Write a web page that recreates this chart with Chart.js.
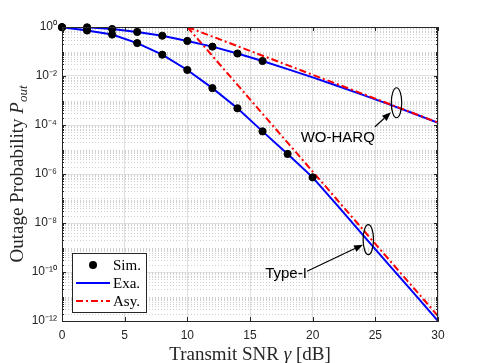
<!DOCTYPE html>
<html lang="en">
<head>
<meta charset="UTF-8">
<title>Outage probability vs transmit SNR</title>
<script src="https://cdn.jsdelivr.net/npm/chart.js"></script>
<style>
  html, body { margin: 0; padding: 0; background: #fff; }
  #wrap { width: 485px; height: 363px; }
</style>
</head>
<body>
<div id="wrap"><canvas id="chart" width="485" height="363"></canvas></div>
<script>
// ---- data ----
const snrSimWo = [0, 2, 4, 6, 8, 10, 12, 14, 16];
const simWo = [0.98, 0.97, 0.83, 0.63, 0.44, 0.27, 0.158, 0.083, 0.041];

const snrSimType1 = [0, 2, 4, 6, 8, 10, 12, 14, 16, 18, 20];
const simType1 = [0.98, 0.72, 0.49, 0.22, 0.074, 0.0176, 3.2e-3, 4.8e-4, 5.5e-5, 6.6e-6, 7.3e-7];

const snrExa = [0, 2, 4, 6, 8, 10, 12, 14, 16, 18, 20, 22, 24, 26, 28, 30];
const exaWo = [0.98, 0.966, 0.83, 0.63, 0.44, 0.27, 0.158, 0.083, 0.041, 1.9e-2, 8.8e-3, 3.9e-3, 1.7e-3, 7.3e-4, 3.0e-4, 1.23e-4];
const exaType1 = [0.98, 0.72, 0.49, 0.22, 0.074, 0.0176, 3.2e-3, 4.8e-4, 5.5e-5, 6.6e-6, 7.3e-7, 5.0e-8, 3.3e-9, 2.2e-10, 1.5e-11, 1.0e-12];

const snrAsy = [10, 15, 20, 25, 30];
const asyWo = [1, 0.106, 1.12e-2, 1.19e-3, 1.26e-4];
const asyType1 = [1, 1.12e-3, 1.26e-6, 1.4e-9, 1.6e-12];

const xTicks = [0, 5, 10, 15, 20, 25, 30];
const yTicks = [1, 1e-2, 1e-4, 1e-6, 1e-8, 1e-10, 1e-12];
const yTickLabels = ['10⁰', '10⁻²', '10⁻⁴', '10⁻⁶', '10⁻⁸', '10⁻¹⁰', '10⁻¹²'];

const legendLabels = ['Sim.', 'Exa.', 'Asy.'];

// ---- styles ----
const BLUE = '#0000ff';
const RED = '#ff0000';
const AXIS = '#262626';
const GRID = '#dedede';
const MINOR = '#cfcfcf';
const DASHDOT = [7, 3, 2, 3];
const SERIF = '"Liberation Serif", "DejaVu Serif", serif';
const SANS = '"Liberation Sans", Arial, sans-serif';

function pts(xs, ys) {
  return xs.map((x, i) => ({ x: x, y: ys[i] }));
}

const simStyle = {
  showLine: false, pointRadius: 3.6, pointBorderWidth: 1, pointStyle: 'circle', clip: false,
  pointBackgroundColor: '#000', pointBorderColor: '#000', borderColor: '#000', order: 0
};
const exaStyle = { borderColor: BLUE, borderWidth: 2, pointRadius: 0, order: 2 };
const asyStyle = { borderColor: RED, borderWidth: 2, borderDash: DASHDOT, pointRadius: 0, order: 1 };

// minor grid lines, inward ticks and the top/right box
const boxPlugin = {
  id: 'box',
  beforeDatasetsDraw(chart) {
    const { ctx, chartArea: a, scales } = chart;
    const ys = scales.y;
    ctx.save();
    ctx.strokeStyle = MINOR;
    ctx.lineWidth = 1;
    ctx.setLineDash([1, 2]);
    for (let e = -12; e < 0; e++) {
      for (let m = 1; m <= 9; m++) {
        if (m === 1 && e % 2 === 0) continue;
        const v = m * Math.pow(10, e);
        const py = Math.round(ys.getPixelForValue(v)) + 0.5;
        ctx.beginPath();
        ctx.moveTo(a.left, py);
        ctx.lineTo(a.right, py);
        ctx.stroke();
      }
    }
    ctx.restore();
  },
  afterDatasetsDraw(chart) {
    const { ctx, chartArea: a, scales } = chart;
    const xs = scales.x, ys = scales.y;
    ctx.save();
    ctx.strokeStyle = AXIS;
    ctx.lineWidth = 1;
    ctx.beginPath();
    // ticks on the x axis, bottom and top
    xTicks.forEach(v => {
      const px = Math.round(xs.getPixelForValue(v)) + 0.5;
      ctx.moveTo(px, a.bottom); ctx.lineTo(px, a.bottom - 4);
      ctx.moveTo(px, a.top); ctx.lineTo(px, a.top + 4);
    });
    // ticks on the y axis, left and right
    for (let e = -12; e <= 0; e++) {
      for (let m = 1; m <= 9; m++) {
        const v = m * Math.pow(10, e);
        if (v > 1) break;
        const len = (m === 1 && e % 2 === 0) ? 4 : 2;
        const py = Math.round(ys.getPixelForValue(v)) + 0.5;
        ctx.moveTo(a.left, py); ctx.lineTo(a.left + len, py);
        ctx.moveTo(a.right, py); ctx.lineTo(a.right - len, py);
      }
    }
    ctx.stroke();
    ctx.beginPath();
    ctx.moveTo(a.left, a.top + 0.5); ctx.lineTo(a.right, a.top + 0.5);
    ctx.moveTo(a.right - 0.5, a.top); ctx.lineTo(a.right - 0.5, a.bottom);
    ctx.stroke();
    ctx.restore();
  }
};

function arrow(ctx, x0, y0, x1, y1) {
  const ang = Math.atan2(y1 - y0, x1 - x0);
  const L = 9, W = 3.5;
  ctx.beginPath();
  ctx.moveTo(x0, y0);
  ctx.lineTo(x1 - L * Math.cos(ang), y1 - L * Math.sin(ang));
  ctx.stroke();
  ctx.beginPath();
  ctx.moveTo(x1, y1);
  ctx.lineTo(x1 - L * Math.cos(ang) + W * Math.sin(ang), y1 - L * Math.sin(ang) - W * Math.cos(ang));
  ctx.lineTo(x1 - L * Math.cos(ang) - W * Math.sin(ang), y1 - L * Math.sin(ang) + W * Math.cos(ang));
  ctx.closePath();
  ctx.fill();
}

// annotations in data units
const notes = [
  { text: 'WO-HARQ', tx: 22.0, ty: 3.0e-5, ex: 26.69, ey: 8.1e-4, ax0: 24.97, ay0: 8.5e-5, ax1: 26.25, ay1: 3.3e-4 },
  { text: 'Type-I', tx: 17.87, ty: 8.5e-11, ex: 24.44, ey: 2.1e-9, ax0: 19.55, ay0: 1.07e-10, ax1: 24.02, ay1: 1.3e-9 }
];

const decorPlugin = {
  id: 'decor',
  afterDraw(chart) {
    const { ctx, chartArea: a, scales } = chart;
    const xs = scales.x, ys = scales.y;
    ctx.save();

    // annotations
    ctx.strokeStyle = '#000';
    ctx.fillStyle = '#000';
    ctx.lineWidth = 1.2;
    notes.forEach(n => {
      const ex = xs.getPixelForValue(n.ex), ey = ys.getPixelForValue(n.ey);
      ctx.beginPath();
      ctx.ellipse(ex, ey, 5.2, 15, 0, 0, Math.PI * 2);
      ctx.stroke();
      arrow(ctx, xs.getPixelForValue(n.ax0), ys.getPixelForValue(n.ay0),
                 xs.getPixelForValue(n.ax1), ys.getPixelForValue(n.ay1));
      ctx.font = '15px ' + SANS;
      ctx.textAlign = 'center';
      ctx.textBaseline = 'middle';
      ctx.fillText(n.text, xs.getPixelForValue(n.tx), ys.getPixelForValue(n.ty));
    });

    // legend
    const lx = 72, ly = 253, lw = 74, lh = 59;
    ctx.fillStyle = '#fff';
    ctx.fillRect(lx, ly, lw, lh);
    ctx.strokeStyle = AXIS;
    ctx.lineWidth = 1;
    ctx.strokeRect(lx + 0.5, ly + 0.5, lw, lh);
    ctx.font = '15px ' + SERIF;
    ctx.textAlign = 'left';
    ctx.textBaseline = 'middle';
    const rows = [ly + 12, ly + 30, ly + 48];
    ctx.fillStyle = '#000';
    ctx.beginPath();
    ctx.arc(93, rows[0], 4, 0, Math.PI * 2);
    ctx.fill();
    ctx.lineWidth = 2;
    ctx.strokeStyle = BLUE;
    ctx.beginPath(); ctx.moveTo(76, rows[1]); ctx.lineTo(110, rows[1]); ctx.stroke();
    ctx.strokeStyle = RED;
    ctx.setLineDash(DASHDOT);
    ctx.beginPath(); ctx.moveTo(76, rows[2]); ctx.lineTo(110, rows[2]); ctx.stroke();
    ctx.setLineDash([]);
    ctx.fillStyle = '#000';
    legendLabels.forEach((t, i) => ctx.fillText(t, 113, rows[i] + 1));

    // x axis title
    ctx.fillStyle = AXIS;
    ctx.textBaseline = 'alphabetic';
    const xParts = [
      { t: 'Transmit SNR ', f: '19px ' + SERIF },
      { t: 'γ', f: 'italic 19px ' + SERIF },
      { t: ' [dB]', f: '19px ' + SERIF }
    ];
    let tw = 0;
    xParts.forEach(p => { ctx.font = p.f; p.w = ctx.measureText(p.t).width; tw += p.w; });
    let cx = (a.left + a.right) / 2 - tw / 2;
    xParts.forEach(p => { ctx.font = p.f; ctx.fillText(p.t, cx, 360); cx += p.w; });

    // y axis title
    ctx.translate(23, (a.top + a.bottom) / 2);
    ctx.rotate(-Math.PI / 2);
    const yParts = [
      { t: 'Outage Probability ', f: '19px ' + SERIF, dy: 0 },
      { t: 'P', f: 'italic 19px ' + SERIF, dy: 0 },
      { t: 'out', f: 'italic 13px ' + SERIF, dy: 4 }
    ];
    tw = 0;
    yParts.forEach(p => { ctx.font = p.f; p.w = ctx.measureText(p.t).width; tw += p.w; });
    cx = -tw / 2;
    yParts.forEach(p => { ctx.font = p.f; ctx.fillText(p.t, cx, p.dy); cx += p.w; });
    ctx.restore();
  }
};

new Chart(document.getElementById('chart'), {
  type: 'line',
  data: {
    datasets: [
      Object.assign({ label: 'Sim. WO-HARQ', data: pts(snrSimWo, simWo) }, simStyle),
      Object.assign({ label: 'Sim. Type-I', data: pts(snrSimType1, simType1) }, simStyle),
      Object.assign({ label: 'Exa. WO-HARQ', data: pts(snrExa, exaWo) }, exaStyle),
      Object.assign({ label: 'Exa. Type-I', data: pts(snrExa, exaType1) }, exaStyle),
      Object.assign({ label: 'Asy. WO-HARQ', data: pts(snrAsy, asyWo) }, asyStyle),
      Object.assign({ label: 'Asy. Type-I', data: pts(snrAsy, asyType1) }, asyStyle)
    ]
  },
  options: {
    responsive: false,
    animation: false,
    devicePixelRatio: 1,
    layout: { padding: { left: 0, top: 27, right: 47, bottom: 0 } },
    plugins: { legend: { display: false }, tooltip: { enabled: false } },
    elements: { line: { tension: 0 } },
    scales: {
      x: {
        type: 'linear', min: 0, max: 30,
        afterBuildTicks: s => { s.ticks = xTicks.map(v => ({ value: v })); },
        afterFit: s => { s.height = 42; },
        ticks: { color: AXIS, font: { family: SANS, size: 12 }, padding: 7, maxRotation: 0 },
        grid: { color: GRID, drawTicks: false },
        border: { color: AXIS, width: 1 }
      },
      y: {
        type: 'logarithmic', min: 1e-12, max: 1,
        afterBuildTicks: s => { s.ticks = yTicks.map(v => ({ value: v })); },
        afterFit: s => { s.width = 62; },
        ticks: {
          color: AXIS, font: { family: SANS, size: 12 }, padding: 5, autoSkip: false,
          callback: (v, i) => yTickLabels[i]
        },
        grid: { color: GRID, drawTicks: false },
        border: { color: AXIS, width: 1 }
      }
    }
  },
  plugins: [boxPlugin, decorPlugin]
});
</script>
</body>
</html>
